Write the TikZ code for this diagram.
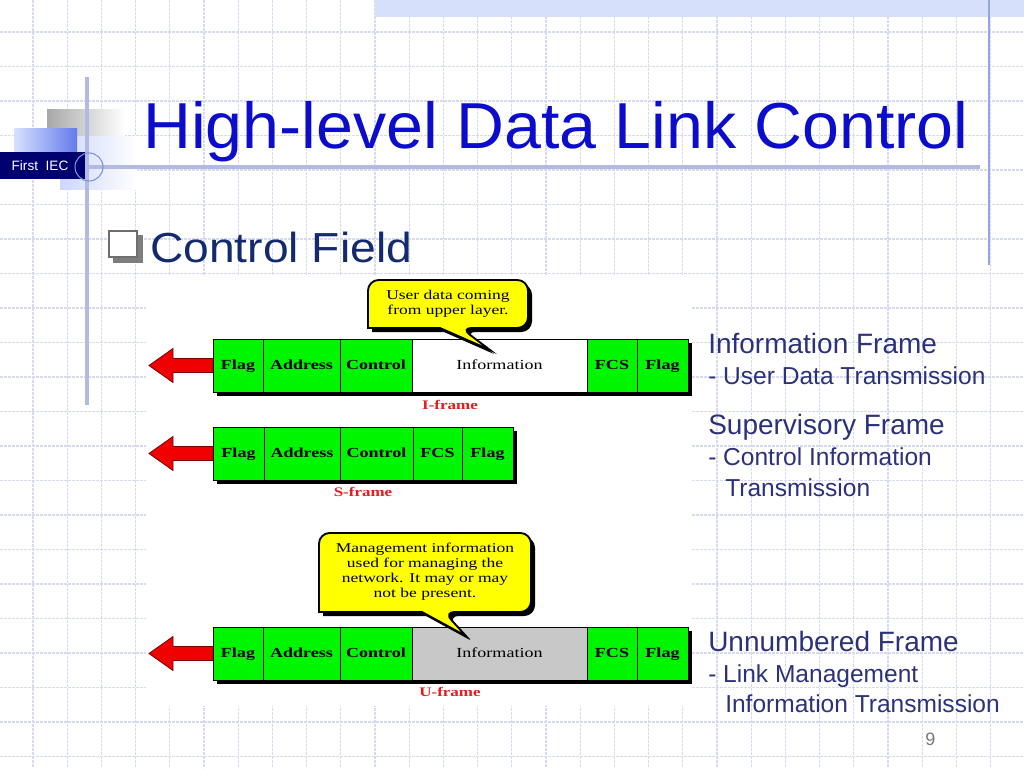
\documentclass[tikz,border=0pt]{standalone}
\usepackage{fontspec}
\setmainfont{Liberation Sans}
\newfontfamily\headfont{Liberation Sans}[FakeStretch=1.02]
\newfontfamily\bulletfont{Liberation Sans}[FakeStretch=1.1]
\newfontfamily\cellfont{Liberation Serif}[FakeStretch=1.3]
\usetikzlibrary{positioning}
\usetikzlibrary{shadows}

\definecolor{gridgray}{RGB}{214,219,240}
\definecolor{bandblue}{RGB}{214,224,250}
\definecolor{lineblue}{RGB}{176,186,226}
\definecolor{rimblue}{RGB}{150,165,222}
\definecolor{ringblue}{RGB}{125,145,222}
\definecolor{plategray}{RGB}{168,168,168}
\definecolor{paleblue}{RGB}{205,215,250}
\definecolor{iceblue}{RGB}{215,225,252}
\definecolor{midblue}{RGB}{100,122,236}
\definecolor{navy}{RGB}{0,0,110}
\definecolor{titleblue}{RGB}{12,12,204}
\definecolor{fieldblue}{RGB}{20,42,110}
\definecolor{sideblue}{RGB}{44,50,122}
\definecolor{boxgray}{RGB}{125,125,125}
\definecolor{boxedge}{RGB}{110,110,110}
\definecolor{pagegray}{RGB}{120,120,120}
\definecolor{framegreen}{RGB}{0,245,0}
\definecolor{infogray}{RGB}{200,200,200}
\definecolor{arrowred}{RGB}{240,0,0}
\definecolor{arrowedge}{RGB}{120,0,0}
\definecolor{labelred}{RGB}{228,28,28}
\definecolor{noteyellow}{RGB}{255,255,0}

\tikzset{
  cell/.style={draw=black, line width=0.75pt, fill=framegreen, minimum height=39.75pt,
    text height=7.5pt, text depth=2.2pt,
    inner sep=0pt, outer sep=0pt, font=\cellfont\bfseries\fontsize{10.4}{12}\selectfont,
    drop shadow={shadow xshift=3pt, shadow yshift=-3pt, opacity=1, fill=black}},
  infocell/.style={cell, font=\cellfont\fontsize{10.4}{12}\selectfont},
  framelabel/.style={text=labelred, font=\cellfont\bfseries\fontsize{9.8}{11}\selectfont, inner sep=0pt},
  bigarrow/.style={fill=arrowred, draw=arrowedge, line width=0.6pt},
  balloon/.style={fill=noteyellow, draw=black, line width=1.4pt,
    drop shadow={shadow xshift=3pt, shadow yshift=-3pt, opacity=1, fill=black}},
  notetext/.style={align=center, inner sep=0pt, font=\cellfont\fontsize{10.1}{11.25}\selectfont},
  sidehead/.style={anchor=base west, inner sep=0pt, text=sideblue, font=\fontsize{21}{24}\selectfont},
  sideline/.style={anchor=base west, inner sep=0pt, text=sideblue, font=\fontsize{18.4}{21}\selectfont},
  gridline/.style={gridgray, line width=0.8pt, dash pattern=on 2pt off 1pt},
}

\begin{document}
\begin{tikzpicture}[x=0.75pt,y=0.75pt,yscale=-1,xscale=1]
\useasboundingbox (0,0) rectangle (1024,768);
\fill[white] (0,0) rectangle (1024,768);

% background grid
\foreach \k in {0,...,29}
  \draw[gridline] ({33+34.2*\k},0) -- ({33+34.2*\k},768);
\foreach \k in {0,...,21}
  \draw[gridline] (0,{32+34.5*\k}) -- (1024,{32+34.5*\k});
\fill[bandblue] (375,0) rectangle (1024,17);
\draw[rimblue, line width=1.5pt] (989,0) -- (989,265);

% left decoration
\shade[left color=plategray, right color=white] (47,109) rectangle (125,135);
\shade[left color=paleblue, right color=white] (60,136) rectangle (137,189);
\shade[left color=iceblue, right color=midblue] (14,128) rectangle (77,152);
\draw[lineblue, line width=2.4pt] (87,77) -- (87,405);
\draw[lineblue, line width=2.4pt] (87,167) -- (980,167);
\fill[navy] (0,152) rectangle (85,179);
\node[text=white, font=\fontsize{10.2}{11}\selectfont, inner sep=0pt] (brand) at (40,166) {First\ \ IEC};
\draw[ringblue, line width=0.8pt] (89,167) circle (14);

% title
\node[anchor=base west, inner sep=0pt, text=titleblue, font=\headfont\fontsize{48.75}{56}\selectfont] (title) at (143,148) {High-level Data Link Control};

% bullet
\fill[boxgray] (113,235) rectangle (143,263);
\draw[boxedge, fill=white, line width=1.5pt] (109,231) rectangle (137,257);
\node[anchor=base west, inner sep=0pt, text=fieldblue, font=\bulletfont\fontsize{31.5}{36}\selectfont] (field) at (150,262) {Control Field};

% picture panel
\fill[white] (146,276) rectangle (692,706);

% I-frame
\node[cell, minimum width=37.5pt] (i1) at (238,365.5) {Flag};
\node[cell, minimum width=57.75pt] (i2) at (301.5,365.5) {Address};
\node[cell, minimum width=54pt] (i3) at (376,365.5) {Control};
\node[infocell, fill=white, minimum width=131.25pt] (i4) at (499.5,365.5) {Information};
\node[cell, minimum width=37.5pt] (i5) at (612,365.5) {FCS};
\node[cell, minimum width=38.25pt] (i6) at (662.5,365.5) {Flag};
\draw[bigarrow] (i1.west) ++(0,-7) -- ++(-40,0) -- ++(0,-10) -- ++(-24,17) -- ++(24,17) -- ++(0,-10) -- ++(40,0) -- cycle;
\node[framelabel] (ilabel) at (450,405) {I-frame};

% S-frame
\node[cell, minimum width=38.25pt] (s1) at (238.5,453.5) {Flag};
\node[cell, minimum width=57pt] (s2) at (302,453.5) {Address};
\node[cell, minimum width=54.75pt] (s3) at (376.5,453.5) {Control};
\node[cell, minimum width=36.75pt] (s4) at (437.5,453.5) {FCS};
\node[cell, minimum width=38.25pt] (s5) at (487.5,453.5) {Flag};
\draw[bigarrow] (s1.west) ++(0,-7) -- ++(-40,0) -- ++(0,-10) -- ++(-24,17) -- ++(24,17) -- ++(0,-10) -- ++(40,0) -- cycle;
\node[framelabel] (slabel) at (363,492) {S-frame};

% U-frame
\node[cell, minimum width=37.5pt] (u1) at (238,653.5) {Flag};
\node[cell, minimum width=57.75pt] (u2) at (301.5,653.5) {Address};
\node[cell, minimum width=54pt] (u3) at (376,653.5) {Control};
\node[infocell, fill=infogray, minimum width=131.25pt] (u4) at (499.5,653.5) {Information};
\node[cell, minimum width=37.5pt] (u5) at (612,653.5) {FCS};
\node[cell, minimum width=38.25pt] (u6) at (662.5,653.5) {Flag};
\draw[bigarrow] (u1.west) ++(0,-7) -- ++(-40,0) -- ++(0,-10) -- ++(-24,17) -- ++(24,17) -- ++(0,-10) -- ++(40,0) -- cycle;
\node[framelabel] (ulabel) at (450,692) {U-frame};

% balloons
\draw[balloon] (490,350) -- (440,328) -- (368,328) [rounded corners=8] -- (368,280) -- (528,280) -- (528,328) -- (461,328) [sharp corners] -- cycle;
\node[notetext] (noteI) at (448,304) {User data coming\\from upper layer.};
\draw[balloon] (466,636) -- (422,612) -- (319,612) [rounded corners=8] -- (319,533) -- (531,533) -- (531,612) -- (444,612) [sharp corners] -- cycle;
\node[notetext] (noteU) at (425,572) {Management information\\used for managing the\\network. It may or may\\not be present.};

% side notes
\node[sidehead] (headI) at (708,353) {Information Frame};
\node[sideline] (lineI) at (708,384) {- User Data Transmission};
\node[sidehead] (headS) at (708,434) {Supervisory Frame};
\node[sideline] (lineS) at (708,465) {- Control Information};
\node[sideline] (lineS2) at (725,496) {Transmission};
\node[sidehead] (headU) at (708,651) {Unnumbered Frame};
\node[sideline] (lineU) at (708,682) {- Link Management};
\node[sideline] (lineU2) at (725,712) {Information Transmission};
\node[anchor=base west, inner sep=0pt, text=pagegray, font=\fontsize{13.5}{16}\selectfont] (page) at (925,745) {9};

\end{tikzpicture}
\end{document}
